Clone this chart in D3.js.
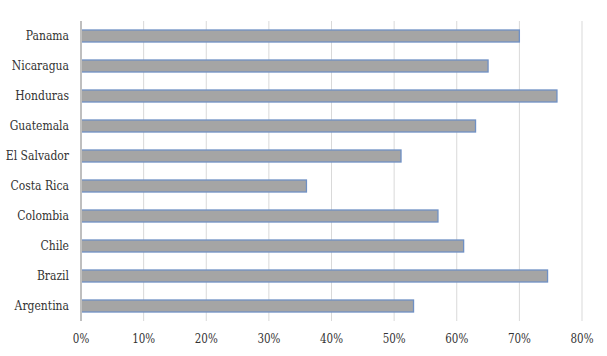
<!DOCTYPE html>
<html>
<head>
<meta charset="utf-8">
<script src="https://cdn.jsdelivr.net/npm/d3@7"></script>
<style>
  body { margin: 0; background: #fff; }
</style>
</head>
<body>
<div id="chart"></div>
<script>
var countries = ["Panama", "Nicaragua", "Honduras", "Guatemala", "El Salvador",
                 "Costa Rica", "Colombia", "Chile", "Brazil", "Argentina"];
var shares = [0.70, 0.65, 0.76, 0.63, 0.511, 0.36, 0.57, 0.611, 0.745, 0.531];
var tickValues = [0, 0.1, 0.2, 0.3, 0.4, 0.5, 0.6, 0.7, 0.8];

var width = 607, height = 356;
var margin = {top: 21, right: 25, bottom: 35, left: 81};
var serif = "'DejaVu Serif Condensed', 'DejaVu Serif', serif";

var svg = d3.select("#chart").append("svg")
    .attr("width", width)
    .attr("height", height);

var x = d3.scaleLinear().domain([0, 0.8]).range([margin.left, 582]);
var y = d3.scaleBand().domain(countries).range([margin.top, height - margin.bottom]).paddingInner(0.6).paddingOuter(0.3);

// gridlines
svg.append("g").selectAll("line").data(tickValues.slice(1)).enter().append("line")
    .attr("x1", function(d) { return x(d); })
    .attr("x2", function(d) { return x(d); })
    .attr("y1", margin.top)
    .attr("y2", height - margin.bottom)
    .attr("stroke", "#d9d9d9")
    .attr("stroke-width", 1);

// bars
svg.append("g").selectAll("rect").data(countries).enter().append("rect")
    .attr("x", x(0))
    .attr("y", function(d) { return y(d); })
    .attr("width", function(d, i) { return x(shares[i]) - x(0); })
    .attr("height", y.bandwidth())
    .attr("fill", "#a5a5a5")
    .attr("stroke", "#6f90c4")
    .attr("stroke-width", 1.3);

// y axis line
svg.append("line")
    .attr("x1", x(0)).attr("x2", x(0))
    .attr("y1", margin.top).attr("y2", height - margin.bottom)
    .attr("stroke", "#bfbfbf")
    .attr("stroke-width", 2);

// category labels, squeezed a little to mimic the narrow serif of the original
svg.append("g").selectAll("text").data(countries).enter().append("text")
    .attr("transform", function(d) {
        return "translate(" + (x(0) - 12) + "," + (y(d) + y.bandwidth() / 2) + ") scale(0.96,1)";
    })
    .attr("dy", "0.35em")
    .attr("text-anchor", "end")
    .attr("font-family", serif)
    .attr("font-size", "12.5px")
    .attr("fill", "#333")
    .text(function(d) { return d; });

// x tick labels
var fmt = d3.format(".0%");
svg.append("g").selectAll("text").data(tickValues).enter().append("text")
    .attr("transform", function(d) { return "translate(" + x(d) + ",339) scale(0.92,1)"; })
    .attr("dy", "0.35em")
    .attr("text-anchor", "middle")
    .attr("font-family", serif)
    .attr("font-size", "12.5px")
    .attr("fill", "#333")
    .text(function(d) { return fmt(d); });
</script>
</body>
</html>
